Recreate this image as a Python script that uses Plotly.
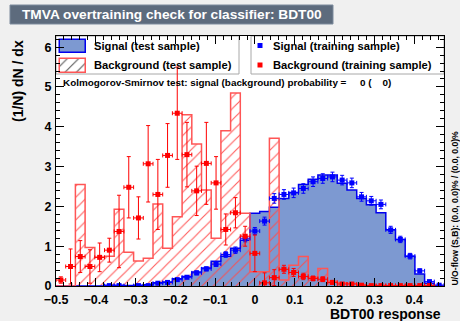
import plotly.graph_objects as go

# ---- binning of the BDT response -------------------------------------------
X_MIN, X_MAX, N_BINS = -0.5, 0.475, 40
BIN_W = (X_MAX - X_MIN) / N_BINS
edges = [X_MIN + i * BIN_W for i in range(N_BINS + 1)]
centers = [X_MIN + (i + 0.5) * BIN_W for i in range(N_BINS)]

# ---- signal, test sample (normalised histogram) ----------------------------
sig_test = [0, 0, 0, 0, 0, 0.02, 0.02, 0.01, 0.02, 0.03,
            0.08, 0.10, 0.18, 0.24, 0.35, 0.45, 0.62, 0.75, 0.95, 1.15,
            1.83, 1.87, 1.98, 2.20, 2.35, 2.55, 2.68, 2.79, 2.79, 2.58,
            2.41, 2.20, 2.04, 1.84, 1.41, 1.17, 0.75, 0.30, 0.07, 0.01]

# ---- background, test sample -----------------------------------------------
bkg_test = [0, 0, 2.55, 0.97, 0.72, 0.75, 1.93, 0.85, 0.63, 0.70,
            2.06, 0.95, 1.74, 4.30, 3.57, 2.41, 1.20, 3.90, 4.85, 1.83,
            0.36, 0.36, 3.71, 0.15, 0.52, 0.74, 0.22, 0.44, 0.12, 0.08,
            0.06, 0.03, 0.01, 0.01, 0, 0.01, 0, 0, 0, 0]

# ---- signal, training sample (points with errors) --------------------------
sig_train = [None, None, None, None, None, 0.01, 0.01, None, 0.01, 0.01,
             0.07, 0.09, 0.16, 0.22, 0.33, 0.43, 0.55, 0.79, 0.90, 1.20,
             1.38, 1.63, 2.20, 2.30, 2.34, 2.45, 2.62, 2.70, 2.74, 2.66,
             2.59, 2.24, 2.14, 2.05, 1.41, 1.17, 0.75, 0.38, 0.11, 0.02]
sig_train_err = [0, 0, 0, 0, 0, 0.01, 0.01, 0, 0.01, 0.01,
                 0.02, 0.03, 0.03, 0.04, 0.05, 0.05, 0.06, 0.07, 0.08, 0.09,
                 0.09, 0.10, 0.12, 0.12, 0.12, 0.12, 0.12, 0.12, 0.12, 0.12,
                 0.12, 0.11, 0.11, 0.11, 0.09, 0.08, 0.07, 0.05, 0.03, 0.01]

# ---- background, training sample -------------------------------------------
bkg_train = [0.15, 0.49, 0.74, 0.49, 0.72, 0.90, 1.37, 2.48, 1.71, 3.07,
             2.30, 3.28, 4.34, 3.30, 2.39, 3.08, 2.59, 1.42, 1.84, 1.25,
             0.82, 0.08, 0.21, 0.42, 0.34, 0.24, 0.19, 0.17, 0.09, 0.05,
             0.05, 0.02, 0.01, 0.01, 0.01, 0.01, 0.01, 0.01, 0.01, None]
bkg_train_err = [0.08, 0.44, 0.40, 0.42, 0.36, 0.30, 0.91, 0.77, 0.53, 0.96,
                 0.88, 0.80, 1.16, 0.81, 0.62, 1.03, 0.66, 0.39, 0.38, 0.25,
                 0.46, 0.25, 0.20, 0.10, 0.10, 0.08, 0.06, 0.06, 0.05, 0.03,
                 0.03, 0.02, 0.01, 0.01, 0.01, 0.01, 0.01, 0.01, 0.01, 0]

# ---- texts ------------------------------------------------------------------
title_text = "TMVA overtraining check for classifier: BDT00"
x_title = "BDT00 response"
y_title = "(1/N) dN / dx"
ks_text = "Kolmogorov-Smirnov test: signal (background) probability =     0 (    0)"
uo_text = "U/O-flow (S,B): (0.0, 0.0)% / (0.0, 0.0)%"
legend_left = ["Signal (test sample)", "Background (test sample)"]
legend_right = ["Signal (training sample)", "Background (training sample)"]

# ---- style ------------------------------------------------------------------
FONT = "Liberation Sans, Arial, Helvetica, sans-serif"
C_CANVAS = "#f0f0f0"
C_TITLEBOX = "#5D6B7D"
C_SIG_FILL = "#7d99d1"
C_SIG_LINE = "#0000ee"
C_BKG_LINE = "#ff5555"
C_BKG_HATCH = "#ff4a4a"
HATCH = dict(shape="/", fgcolor=C_BKG_HATCH, bgcolor="rgba(0,0,0,0)",
             fgopacity=0.9, size=8, solidity=0.14)

W, H = 460, 321
L, R, T, B = 56, 444, 36, 286   # plot frame in pixels


def fx(x):
    """pixel column -> paper x"""
    return (x - L) / (R - L)


def fy(y):
    """pixel row -> paper y"""
    return (B - y) / (B - T)


fig = go.Figure()

# signal test histogram: solid fill
fig.add_trace(go.Bar(
    x=centers, y=sig_test, width=BIN_W,
    marker=dict(color=C_SIG_FILL, line=dict(width=0)),
    hoverinfo="skip", showlegend=False))

# background test histogram: hatched fill
fig.add_trace(go.Bar(
    x=centers, y=bkg_test, width=BIN_W,
    marker=dict(color="rgba(0,0,0,0)", line=dict(width=0), pattern=HATCH),
    hoverinfo="skip", showlegend=False))

# histogram outlines as steps
for vals, col in ((sig_test, C_SIG_LINE), (bkg_test, C_BKG_LINE)):
    fig.add_trace(go.Scatter(
        x=edges, y=vals + [vals[-1]], mode="lines", line_shape="hv",
        line=dict(color=col, width=1.5), hoverinfo="skip", showlegend=False))

# training samples: points with error bars
for vals, errs, col in ((sig_train, sig_train_err, "#0000ff"),
                        (bkg_train, bkg_train_err, "#ff0000")):
    fig.add_trace(go.Scatter(
        x=centers, y=vals, mode="markers",
        marker=dict(symbol="square", size=5, color=col),
        error_y=dict(type="data", array=errs, color=col, thickness=1, width=2),
        error_x=dict(type="constant", value=BIN_W / 2, color=col,
                     thickness=1, width=2),
        hoverinfo="skip", showlegend=False))

# legend swatches on a pixel-scaled overlay axis
fig.add_trace(go.Bar(
    x=[17, 17], y=[13, 14], base=[4, 23], width=[26, 26],
    marker=dict(color=[C_SIG_FILL, "rgba(0,0,0,0)"],
                line=dict(color=[C_SIG_LINE, C_BKG_LINE], width=1.5),
                pattern=dict(shape=["", "/"], fgcolor=C_BKG_HATCH,
                             bgcolor="rgba(0,0,0,0)", fgopacity=0.9,
                             size=8, solidity=0.14)),
    xaxis="x2", yaxis="y2", hoverinfo="skip", showlegend=False))
fig.add_trace(go.Scatter(
    x=[204, 204], y=[9.5, 29], mode="markers",
    marker=dict(symbol="square", size=5, color=["#0000ff", "#ff0000"]),
    xaxis="x2", yaxis="y2", hoverinfo="skip", showlegend=False))

axis_common = dict(showgrid=False, zeroline=False, showline=True,
                   linecolor="black", linewidth=1, mirror="ticks",
                   ticks="inside", ticklen=8, tickcolor="black",
                   tickfont=dict(family=FONT, size=12.5, color="black",
                                 weight="bold"))

fig.update_layout(
    width=W, height=H,
    margin=dict(l=L, r=W - R, t=T, b=H - B, pad=0),
    paper_bgcolor=C_CANVAS, plot_bgcolor="white",
    font=dict(family=FONT, color="black"),
    showlegend=False, barmode="overlay", bargap=0,
    xaxis=dict(range=[X_MIN, X_MAX], tick0=-0.5, dtick=0.1,
               ticklabelstandoff=2,
               minor=dict(dtick=0.02, ticklen=4, ticks="inside",
                          tickcolor="black"),
               **axis_common),
    yaxis=dict(range=[0, 6.28], tick0=0, dtick=1, ticklabelstandoff=1,
               minor=dict(dtick=0.2, ticklen=4, ticks="inside",
                          tickcolor="black"),
               **axis_common),
    xaxis2=dict(range=[0, R - L], overlaying="x", visible=False,
                domain=[0, 1]),
    yaxis2=dict(range=[B - T, 0], overlaying="y", visible=False,
                domain=[0, 1]),
)

shapes = [
    # title box
    dict(type="rect", xref="paper", yref="paper", x0=fx(10), x1=fx(333),
         y0=fy(24), y1=fy(5), fillcolor=C_TITLEBOX,
         line=dict(color="#7D8B9D", width=1), layer="above"),
    # legend boxes
    dict(type="rect", xref="paper", yref="paper", x0=fx(L), x1=fx(239),
         y0=fy(74), y1=fy(T), fillcolor="white",
         line=dict(color="#a8a8a8", width=1), layer="below"),
    dict(type="rect", xref="paper", yref="paper", x0=fx(251), x1=fx(R),
         y0=fy(74), y1=fy(T), fillcolor="white",
         line=dict(color="#a8a8a8", width=1), layer="below"),
]
fig.update_layout(shapes=shapes)

ann = []
ann.append(dict(text=title_text, x=fx(20), y=fy(14.5), xref="paper",
                yref="paper", xanchor="left", yanchor="middle",
                showarrow=False,
                font=dict(family=FONT, size=13.7, color="white",
                          weight="bold")))
ann.append(dict(text=x_title, x=fx(443), y=fy(314), xref="paper",
                yref="paper", xanchor="right", yanchor="middle",
                showarrow=False,
                font=dict(family=FONT, size=14, weight="bold")))
ann.append(dict(text=y_title, x=fx(18), y=fy(38), xref="paper",
                yref="paper", xanchor="center", yanchor="top",
                textangle=-90, showarrow=False,
                font=dict(family=FONT, size=14, weight="bold")))
ann.append(dict(text=ks_text, x=fx(61), y=fy(83), xref="paper",
                yref="paper", xanchor="left", yanchor="middle",
                showarrow=False,
                font=dict(family=FONT, size=9.9, weight="bold")))
ann.append(dict(text=uo_text, x=fx(454), y=fy(287), xref="paper",
                yref="paper", xanchor="center", yanchor="bottom",
                textangle=-90, showarrow=False,
                font=dict(family=FONT, size=8.6, weight="bold")))
for txt, yy in zip(legend_left, (45.7, 64.7)):
    ann.append(dict(text=txt, x=fx(92), y=fy(yy), xref="paper",
                    yref="paper", xanchor="left", yanchor="middle",
                    showarrow=False,
                    font=dict(family=FONT, size=11.2, weight="bold")))
for txt, yy in zip(legend_right, (45.7, 64.7)):
    ann.append(dict(text=txt, x=fx(271), y=fy(yy), xref="paper",
                    yref="paper", xanchor="left", yanchor="middle",
                    showarrow=False,
                    font=dict(family=FONT, size=11.2, weight="bold")))
fig.update_layout(annotations=ann)

fig.write_html("out.html")
